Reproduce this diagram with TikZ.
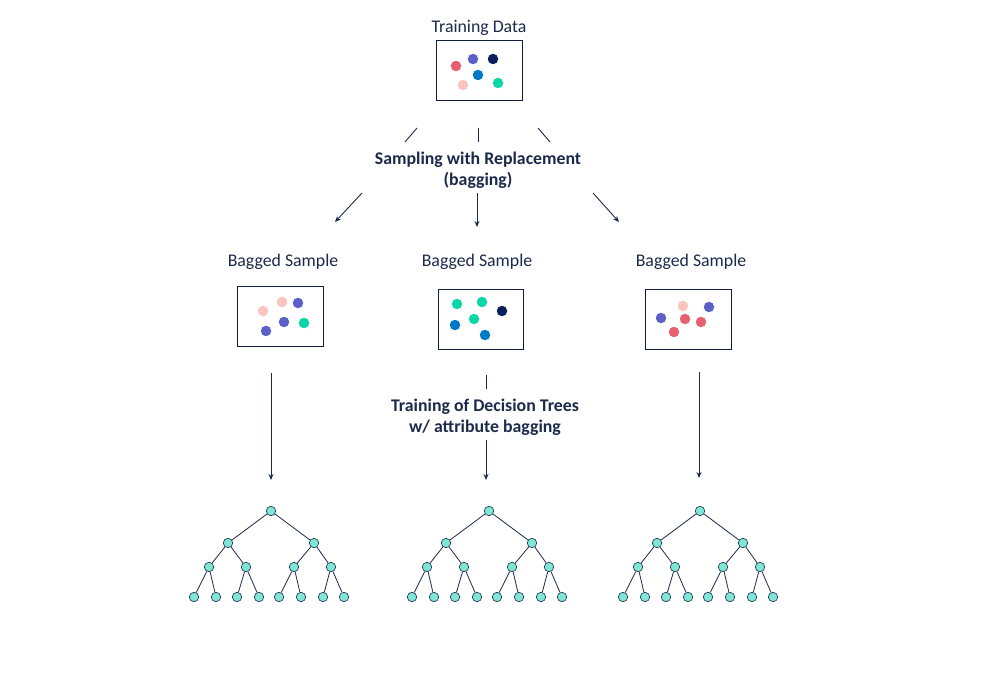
\documentclass[tikz,border=0pt]{standalone}
\usepackage{fontspec}
\setmainfont{Carlito}
\usetikzlibrary{arrows.meta}
\definecolor{ink}{HTML}{1B2A4A}
\definecolor{boxc}{HTML}{0F1E3C}
\definecolor{cred}{HTML}{E8606E}
\definecolor{cpur}{HTML}{5B5FC7}
\definecolor{cnavy}{HTML}{0A1F5C}
\definecolor{cblue}{HTML}{0078C8}
\definecolor{cpink}{HTML}{F9C4BE}
\definecolor{cgreen}{HTML}{0AD6A8}
\definecolor{tfill}{HTML}{7DE6D4}
\newcommand\dtree[2]{%
  \node[tn] (#1r) at (#2,511) {};
  \node[tn] (#1a) at (#2-43,543) {};
  \node[tn] (#1b) at (#2+43,543) {};
  \node[tn] (#1aa) at (#2-62,567) {};
  \node[tn] (#1ab) at (#2-25,567) {};
  \node[tn] (#1ba) at (#2+23,567) {};
  \node[tn] (#1bb) at (#2+60,567) {};
  \node[tn] (#1l1) at (#2-77,597) {};
  \node[tn] (#1l2) at (#2-55,597) {};
  \node[tn] (#1l3) at (#2-34,597) {};
  \node[tn] (#1l4) at (#2-12,597) {};
  \node[tn] (#1l5) at (#2+8,597) {};
  \node[tn] (#1l6) at (#2+30,597) {};
  \node[tn] (#1l7) at (#2+52,597) {};
  \node[tn] (#1l8) at (#2+73,597) {};
  \draw[te] (#1r)--(#1a) (#1r)--(#1b)
    (#1a)--(#1aa) (#1a)--(#1ab) (#1b)--(#1ba) (#1b)--(#1bb)
    (#1aa)--(#1l1) (#1aa)--(#1l2) (#1ab)--(#1l3) (#1ab)--(#1l4)
    (#1ba)--(#1l5) (#1ba)--(#1l6) (#1bb)--(#1l7) (#1bb)--(#1l8);
}
\begin{document}
\begin{tikzpicture}[x=1pt,y=-1pt,
  lbl/.style={font=\fontsize{17.8}{21}\selectfont, text=ink, inner sep=0pt, align=center},
  blbl/.style={lbl, font=\fontsize{17.8}{21}\selectfont\bfseries},
  sbox/.style={draw=boxc, line width=1pt, minimum width=#1, minimum height=60pt, inner sep=0pt},
  dot/.style={circle, fill=#1, minimum size=10.5pt, inner sep=0pt},
  tn/.style={circle, draw=ink, fill=tfill, line width=0.6pt, minimum size=9.5pt, inner sep=0pt},
  te/.style={draw=ink, line width=0.8pt},
  ln/.style={draw=ink, line width=0.9pt},
  arr/.style={ln, -{Stealth[length=6pt,width=5pt]}}]
\path[use as bounding box] (0,0) rectangle (981,700);
% Training data
\node[lbl] (tdl) at (479,28) {Training Data};
\node[sbox=86pt] (td) at (479,70.5) {};
\node[dot=cred] (d1) at (456,66) {};
\node[dot=cpur] (d2) at (473,59) {};
\node[dot=cnavy] (d3) at (493,59) {};
\node[dot=cblue] (d4) at (478,75) {};
\node[dot=cpink] (d5) at (463,85) {};
\node[dot=cgreen] (d6) at (498,83) {};
% sampling
\node[blbl] (samp) at (478,170.5) {Sampling with Replacement\\(bagging)};
\coordinate (s1a) at (417,128); \coordinate (s1b) at (405,142);
\coordinate (s2a) at (478.5,128); \coordinate (s2b) at (478.5,142);
\coordinate (s3a) at (538,128); \coordinate (s3b) at (550,142);
\draw[ln] (s1a)--(s1b) (s2a)--(s2b) (s3a)--(s3b);
\coordinate (a1a) at (362,193); \coordinate (a1b) at (335,222);
\coordinate (a2a) at (477,193); \coordinate (a2b) at (477,227);
\coordinate (a3a) at (593,193); \coordinate (a3b) at (619,222);
\draw[arr] (a1a)--(a1b);
\draw[arr] (a2a)--(a2b);
\draw[arr] (a3a)--(a3b);
% bagged samples
\node[lbl] (bl1) at (283,262) {Bagged Sample};
\node[lbl] (bl2) at (477,262) {Bagged Sample};
\node[lbl] (bl3) at (691,262) {Bagged Sample};
\node[sbox=86pt, minimum height=60pt] (b1) at (280,316.5) {};
\node[sbox=85pt] (b2) at (480.5,319) {};
\node[sbox=86pt] (b3) at (688,319) {};
\node[dot=cpink] (e1) at (263,311) {};
\node[dot=cpink] (e2) at (282,302) {};
\node[dot=cpur] (e3) at (298,303) {};
\node[dot=cpur] (e4) at (266,331) {};
\node[dot=cpur] (e5) at (284,322) {};
\node[dot=cgreen] (e6) at (304,323) {};
\node[dot=cgreen] (f1) at (457,304) {};
\node[dot=cgreen] (f2) at (482,302) {};
\node[dot=cnavy] (f3) at (502,311) {};
\node[dot=cgreen] (f4) at (474,319) {};
\node[dot=cblue] (f5) at (455,325) {};
\node[dot=cblue] (f6) at (485,335) {};
\node[dot=cpink] (g1) at (683,306) {};
\node[dot=cpur] (g2) at (709,307) {};
\node[dot=cpur] (g3) at (661,318) {};
\node[dot=cred] (g4) at (685,319) {};
\node[dot=cred] (g5) at (701,322) {};
\node[dot=cred] (g6) at (674,332) {};
% training
\node[blbl] (trn) at (485,417.5) {Training of Decision Trees\\w/ attribute bagging};
\coordinate (t2a) at (486,375); \coordinate (t2b) at (486,389);
\draw[ln] (t2a)--(t2b);
\coordinate (t1a) at (271,373); \coordinate (t1b) at (271,480);
\coordinate (t3a) at (699,372); \coordinate (t3b) at (699,478);
\coordinate (t4a) at (486,440); \coordinate (t4b) at (486,480);
\draw[arr] (t1a)--(t1b);
\draw[arr] (t3a)--(t3b);
\draw[arr] (t4a)--(t4b);
% trees
\dtree{p}{271}
\dtree{q}{489}
\dtree{r}{700}
\end{tikzpicture}
\end{document}
